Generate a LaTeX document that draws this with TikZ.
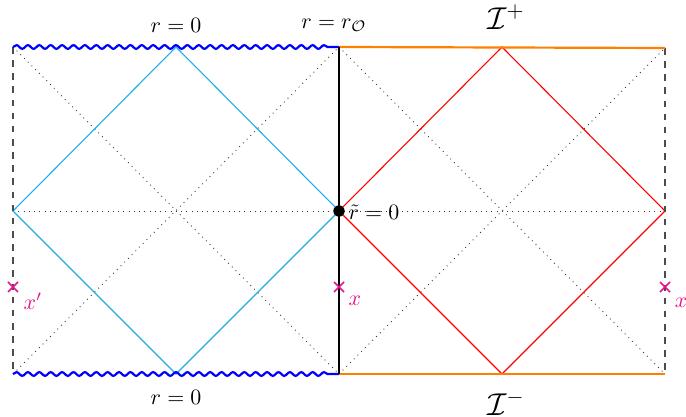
\documentclass[tikz,border=0pt]{standalone}
\usetikzlibrary{decorations.pathmorphing,calc}
\definecolor{cyanl}{RGB}{30,175,235}
\definecolor{magx}{RGB}{230,20,140}
\definecolor{orng}{RGB}{255,128,0}
\begin{document}
\begin{tikzpicture}[x=0.4566pt,y=-0.4566pt,
  dotl/.style={dotted,black!80,line width=0.4pt},
  wavy/.style={blue,line width=1pt,decorate,decoration={snake,amplitude=0.85pt,segment length=5.2pt,post length=3pt}},
  scri/.style={orng,line width=1pt},
  diam/.style={line width=0.5pt},
  bnd/.style={dashed,black!70,line width=0.5pt},
  xmark/.style={magx,line width=0.7pt},
  lab/.style={inner sep=1pt}]
\useasboundingbox (0,0) rectangle (686,417);
% corners
\coordinate (LT) at (13,47);
\coordinate (LB) at (13,374);
\coordinate (MT) at (339,47);
\coordinate (MB) at (339,374);
\coordinate (RT) at (665,48);
\coordinate (RB) at (665,374);
\coordinate (LM) at (13,211);
\coordinate (MM) at (339,211);
\coordinate (RM) at (665,211);
\coordinate (CT1) at (176,47);
\coordinate (CB1) at (176,374);
\coordinate (CT2) at (502,47);
\coordinate (CB2) at (502,374);
% dotted
\draw[dotl] (LT) -- (MB);
\draw[dotl] (LB) -- (MT);
\draw[dotl] (MT) -- (RB);
\draw[dotl] (MB) -- (RT);
\draw[dotl] (LM) -- (RM);
% diamonds
\draw[diam,cyanl] (CT1) -- (LM) -- (CB1) -- (MM) -- cycle;
\draw[diam,red] (CT2) -- (MM) -- (CB2) -- (RM) -- cycle;
% boundaries
\draw[bnd] (LT) -- (LB);
\draw[bnd] (RT) -- (RB);
\draw[wavy] (LT) -- (MT);
\draw[wavy] (LB) -- (MB);
\draw[scri] (MT) -- (RT);
\draw[scri] (MB) -- (RB);
\draw[black,line width=1.3pt] (MT) -- (MB);
\fill (MM) circle (2.6pt);
\node[lab,anchor=west] (rt) at (346,212) {$\tilde r = 0$};
% labels
\node[lab] (r0t) at (176,25) {$r=0$};
\node[lab] (rot) at (334,25) {$r=r_{\mathcal{O}}$};
\node[lab] (ip) at (506,17) {\Large$\mathcal{I}^+$};
\node[lab] (r0b) at (176,397) {$r=0$};
\node[lab] (im) at (506,403) {\Large$\mathcal{I}^-$};
% crosses
\foreach \n/\px in {xa/13,xb/339,xc/665}{
  \coordinate (\n) at (\px,287);
  \draw[xmark] ($(\n)+(-5,-5)$) -- ($(\n)+(5,5)$);
  \draw[xmark] ($(\n)+(-5,5)$) -- ($(\n)+(5,-5)$);
}
\node[lab,magx] (lxa) at (33,301) {$x'$};
\node[lab,magx] (lxb) at (355,301) {$x$};
\node[lab,magx] (lxc) at (681,303) {$x$};
\end{tikzpicture}
\end{document}
